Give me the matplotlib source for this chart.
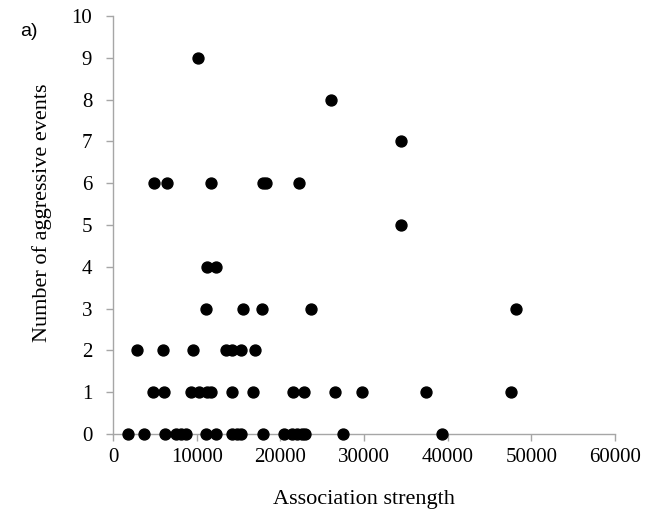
import matplotlib
matplotlib.use("Agg")
import matplotlib.pyplot as plt

# Association strength (x) and number of aggressive events (y)
assoc_0 = [1793, 3705, 6215, 7530, 8127, 8725, 11115, 12310, 14222, 14820, 15298,
           17927, 20437, 21393, 21990, 22588, 22947, 27489, 39321]
assoc_1 = [4781, 6095, 9322, 10278, 11234, 11713, 14222, 16733, 21513, 22827,
           26533, 29760, 37408, 47568]
assoc_2 = [2868, 5976, 9561, 13505, 14222, 15298, 16971]
assoc_3 = [11115, 15537, 17808, 23664, 48165]
assoc_4 = [11195, 12310]
assoc_5 = [34421]
assoc_6 = [4900, 6454, 11713, 17927, 18286, 22230]
assoc_7 = [34421]
assoc_8 = [26055]
assoc_9 = [10159]

groups = [assoc_0, assoc_1, assoc_2, assoc_3, assoc_4, assoc_5, assoc_6, assoc_7, assoc_8, assoc_9]
x = []
y = []
for events, vals in enumerate(groups):
    x.extend(vals)
    y.extend([events] * len(vals))

x_ticks = [0, 10000, 20000, 30000, 40000, 50000, 60000]
y_ticks = list(range(0, 11))

fig = plt.figure(figsize=(6.47, 5.17), dpi=100)
ax = fig.add_axes([0.1747, 0.1605, 0.7758, 0.8085])
ax.scatter(x, y, s=62, color="black", zorder=3, clip_on=False)

ax.set_xlim(0, 60000)
ax.set_ylim(0, 10)
ax.set_xticks(x_ticks)
ax.set_yticks(y_ticks)

serif = ["Liberation Serif", "DejaVu Serif"]
ax.set_xticklabels([str(t) for t in x_ticks], fontfamily=serif, fontsize=15)
ax.set_yticklabels([str(t) for t in y_ticks], fontfamily=serif, fontsize=15)
ax.set_xlabel("Association strength", fontfamily=serif, fontsize=16)
ax.set_ylabel("Number of aggressive events", fontfamily=serif, fontsize=16)

for side in ["top", "right"]:
    ax.spines[side].set_visible(False)
for side in ["left", "bottom"]:
    ax.spines[side].set_color("#a6a6a6")
    ax.spines[side].set_linewidth(1.0)
ax.tick_params(axis="both", direction="out", length=5, color="#a6a6a6", width=1.0, pad=5)
ax.tick_params(axis="y", pad=10)
ax.xaxis.set_label_coords(0.5, -0.135)
ax.yaxis.set_label_coords(-0.122, 0.529)

fig.text(20 / 647, 1 - 32 / 517, "a)", fontfamily=["Liberation Sans", "DejaVu Sans"],
         fontsize=14, va="center", ha="left")

fig.savefig("out.png", dpi=100)
